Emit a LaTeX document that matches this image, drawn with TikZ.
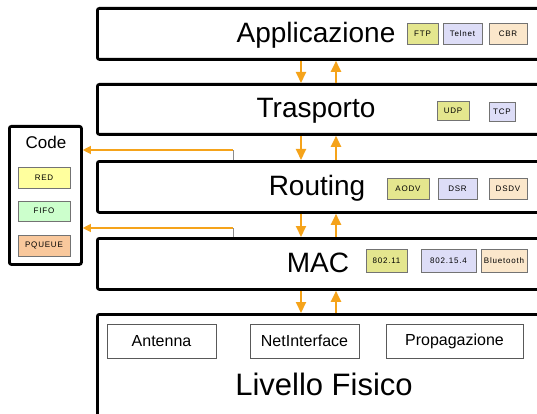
\documentclass[tikz,border=0pt]{standalone}
\usepackage{fontspec}
\setmainfont{Liberation Sans}
\newfontfamily\protofont[LetterSpace=10]{Liberation Sans}
\usepackage{tikz}
\usetikzlibrary{arrows.meta, positioning}
\definecolor{flowcontrast}{HTML}{F5A31A}
\definecolor{protoyellow}{HTML}{E4E68E}
\definecolor{protoblue}{HTML}{DDDDF7}
\definecolor{protopeach}{HTML}{FBE7CB}
\definecolor{queuered}{HTML}{FFFF9E}
\definecolor{queuefifo}{HTML}{CCFFCC}
\definecolor{queueprio}{HTML}{F9C89C}

\begin{document}
\begin{tikzpicture}[x=1pt, y=-1pt,
            layer/.style={draw, line width=2.8pt, rounded corners=2pt,
            minimum width=470pt, anchor=north west, inner sep=0pt},
            title/.style={anchor=base, inner sep=0pt, font=\fontsize{28}{30}\selectfont},
            proto/.style={draw=black!55, line width=0.8pt, inner sep=0pt,
            minimum height=21pt, font=\protofont\fontsize{8}{9}\selectfont},
            phys/.style={draw=black!65, line width=0.8pt, inner sep=0pt,
            minimum height=34pt, font=\fontsize{16}{18}\selectfont},
            flow/.style={flowcontrast, line width=2pt},
            codeflow/.style={flowcontrast, line width=1.2pt},
            >={Triangle[length=11pt,width=10pt]}]
            \clip (0,0) rectangle (537,414);
            \fill[white] (0,0) rectangle (537,414);
            \node[layer, minimum height=51pt] at (96,7) (app) {};
            \node[layer, minimum height=50pt] at (96,83) (tra) {};
            \node[layer, minimum height=51pt] at (96,160) (rou) {};
            \node[layer, minimum height=51pt] at (96,237) (mac) {};
            \node[layer, minimum height=120pt] at (96,313) (fis) {};
            \node[title] at (316,43) (appT) {Applicazione};
            \node[title] at (316,118) (traT) {Trasporto};
            \node[title] at (317,195) (rouT) {Routing};
            \node[title] at (318,272) (macT) {MAC};
            \node[title, font=\fontsize{31}{33}\selectfont] at (324,395) (fisT) {Livello Fisico};
            \node[proto, fill=protoyellow, minimum width=31pt] at (422.5,33.5) (ftp) {FTP};
            \node[proto, fill=protoblue, minimum width=39pt] at (462.5,33.5) (telnet) {Telnet};
            \node[proto, fill=protopeach, minimum width=38pt] at (508,33.5) (cbr) {CBR};
            \node[proto, fill=protoyellow, minimum width=32pt, minimum height=19pt] at (453,111) (udp) {UDP};
            \node[proto, fill=protoblue, minimum width=26pt, minimum height=19pt] at (502,111.5) (tcp) {TCP};
            \node[proto, fill=protoyellow, minimum width=42pt] at (408,188.5) (aodv) {AODV};
            \node[proto, fill=protoblue, minimum width=39pt] at (457.5,188.5) (dsr) {DSR};
            \node[proto, fill=protopeach, minimum width=38pt] at (508,188.5) (dsdv) {DSDV};
            \node[proto, fill=protoyellow, minimum width=41pt, minimum height=23pt] at (386.5,260.5) (wifi) {802.11};
            \node[proto, fill=protoblue, minimum width=55pt, minimum height=23pt] at (448.5,260.5) (zigbee) {802.15.4};
            \node[proto, fill=protopeach, minimum width=46pt, minimum height=23pt] at (504,260.5) (bt) {Bluetooth};
            \node[phys, minimum width=109pt] at (161.5,341) (antenna) {Antenna};
            \node[phys, minimum width=109pt] at (304.5,341) (netif) {NetInterface};
            \node[phys, minimum width=137pt] at (454.5,341) (prop) {Propagazione};
            \node[layer, minimum width=72pt, minimum height=138pt] at (8,125) (code) {};
            \node[font=\fontsize{17}{19}\selectfont] at (46,142) (codeT) {Code};
            \node[proto, fill=queuered, minimum width=52pt] at (44,177.5) (red) {RED};
            \node[proto, fill=queuefifo, minimum width=52pt, minimum height=20pt] at (44,211) (fifo) {FIFO};
            \node[proto, fill=queueprio, minimum width=52pt] at (44,245.5) (pqueue) {PQUEUE};
            \coordinate (dn) at (301,0);
            \coordinate (up) at (336,0);
            \foreach \a/\b in {app/tra, tra/rou, rou/mac, mac/fis} {
                \draw[flow, ->] (\a.south -| dn) -- (\b.north -| dn);
                \draw[flow, ->] (\b.north -| up) -- (\a.south -| up);
            }
            \coordinate (tapA) at (233,150);
            \coordinate (tapB) at (233,228);
            \draw[black!45, line width=0.8pt] (rou.north -| tapA) -- (tapA);
            \draw[black!45, line width=0.8pt] (mac.north -| tapB) -- (tapB);
            \draw[codeflow, ->, >={Triangle[length=8pt,width=8pt]}] (tapA) -- (code.east |- tapA);
            \draw[codeflow, ->, >={Triangle[length=8pt,width=8pt]}] (tapB) -- (code.east |- tapB);
        \end{tikzpicture}
\end{document}
